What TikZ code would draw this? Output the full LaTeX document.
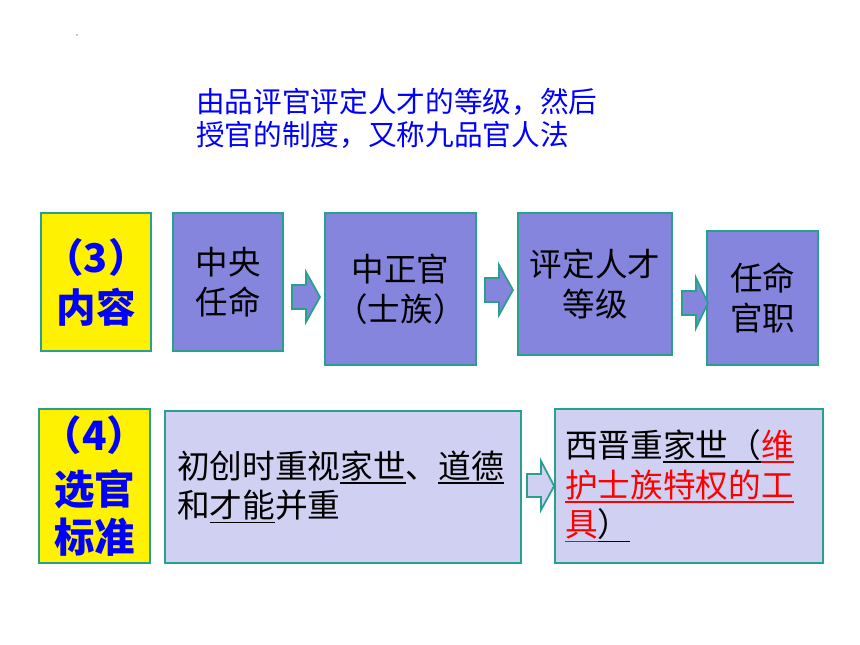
\documentclass[tikz,border=0pt]{standalone}
\usepackage{fontspec}
\newfontfamily\cjk{Noto Sans CJK SC}
\usepackage{xcolor}
\definecolor{boxpurple}{RGB}{133,133,222}
\definecolor{boxlav}{RGB}{208,208,242}
\definecolor{edgeteal}{RGB}{40,160,140}
\definecolor{titleblue}{RGB}{0,0,255}
\newcommand{\ulword}[1]{\leavevmode\setbox0\hbox{#1}\rlap{\rule[-0.17em]{\wd0}{0.9pt}}\box0}

\begin{document}
\begin{tikzpicture}[x=0.02cm,y=-0.02cm,
    titlebox/.style={draw=edgeteal,fill=yellow,line width=1pt,inner sep=0pt,align=center,text=titleblue},
    stagebox/.style={draw=edgeteal,fill=boxpurple,line width=1pt,inner sep=0pt,align=center,font=\cjk\fontsize{18.5}{22.8}\selectfont},
    notebox/.style={draw=edgeteal,fill=boxlav,line width=1pt,inner sep=0pt,align=left,font=\cjk\fontsize{18.6}{22.6}\selectfont},
    blockarrow/.style={draw=edgeteal,line width=1pt}]
      \useasboundingbox(0,0)rectangle(860,645);
      \fill[gray!70](77,35)circle[radius=1];
      \node[anchor=north west,inner sep=0pt,align=left,text=titleblue,font=\cjk\fontsize{16.3}{18.8}\selectfont](dingyi)at(196,88){由品评官评定人才的等级，然后\\授官的制度，又称九品官人法};
      % (3) 内容
      \node[titlebox,minimum width=2.2cm,minimum height=2.76cm,font=\cjk\bfseries\fontsize{22.5}{28.5}\selectfont](neirong)at(96,282){（3）\\内容};
      \node[stagebox,minimum width=2.2cm,minimum height=2.76cm](zhongyang)at(228,282){中央\\任命};
      \node[stagebox,minimum width=3.02cm,minimum height=3.04cm](zhongzheng)at(400.5,289){中正官\\（士族）};
      \node[stagebox,minimum width=3.08cm,minimum height=2.84cm](pingding)at(595,284){评定人才\\等级};
      \node[stagebox,minimum width=2.22cm,minimum height=2.68cm](renming)at(762.5,298){任命\\官职};
      \draw[blockarrow,fill=boxpurple](292,285)--(306,285)--(306,272)--(320,297)--(306,322)--(306,309)--(292,309)--cycle;
      \draw[blockarrow,fill=boxpurple](485,278)--(499,278)--(499,265)--(513,290)--(499,315)--(499,302)--(485,302)--cycle;
      \draw[blockarrow,fill=boxpurple](682,291)--(696,291)--(696,278)--(708,303)--(696,328)--(696,315)--(682,315)--cycle;
      % (4) 选官标准
      \node[titlebox,minimum width=2.22cm,minimum height=3.08cm,font=\cjk\bfseries\fontsize{23}{27.5}\selectfont](biaozhun)at(94.5,486){（4）\\[3pt]选官\\标准};
      \node[notebox,minimum width=7.12cm,minimum height=3.04cm,text width=6.64cm](chuchuang)at(343,487){初创时重视\ulword{家世}、\ulword{道德}\\和\ulword{才能}并重};
      \node[notebox,minimum width=5.36cm,minimum height=3.08cm,text width=4.96cm](xijin)at(689,486){西晋重\ulword{家世（}{\color{red}\ulword{维}}\\\leavevmode{\color{red}\ulword{护士族特权的工}}\\\leavevmode{\color{red}\ulword{具}}\ulword{）}};
      \draw[blockarrow,fill=boxlav](527,474)--(541,474)--(541,461)--(xijin.west)--(541,510)--(541,497)--(527,497)--cycle;
\end{tikzpicture}
\end{document}
